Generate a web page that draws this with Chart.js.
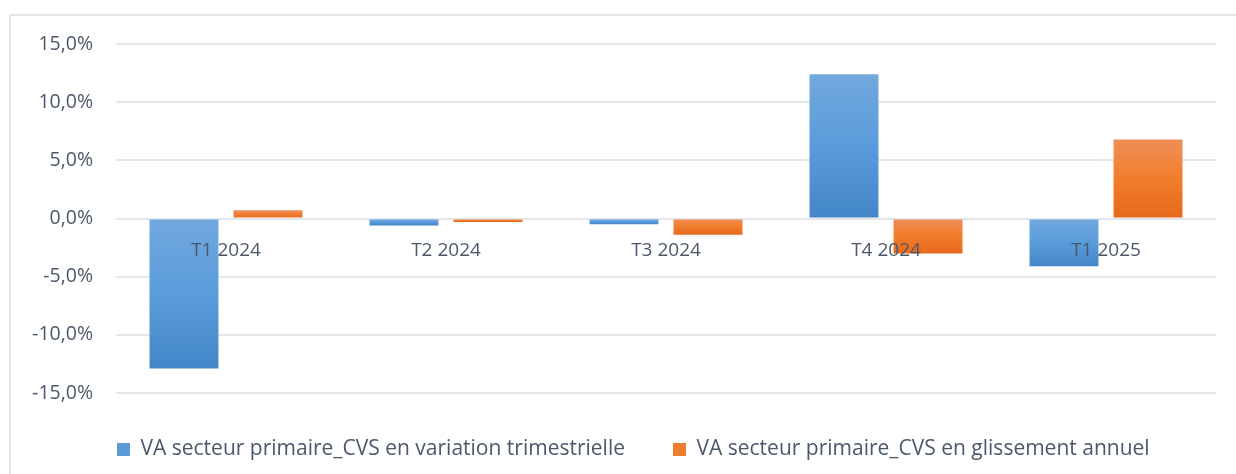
<!DOCTYPE html>
<html>
<head>
<meta charset="utf-8">
<script src="https://cdn.jsdelivr.net/npm/chart.js@4.4.1/dist/chart.umd.min.js"></script>
<style>
  html, body { margin: 0; padding: 0; background: #ffffff; overflow: hidden; }
  #wrap { position: relative; width: 1236px; height: 474px; }
  #frame { position: absolute; left: 9px; top: 14px; width: 1260px; height: 500px; border-top: 2px solid #e3e6ea; border-left: 2px solid #e3e6ea; box-sizing: border-box; }
  canvas { position: absolute; left: 0; top: 0; }
</style>
</head>
<body>
<div id="wrap">
  <div id="frame"></div>
  <canvas id="c" width="1236" height="474"></canvas>
</div>
<script>
const categories = ["T1 2024", "T2 2024", "T3 2024", "T4 2024", "T1 2025"];
const seriesNames = ["VA secteur primaire_CVS en variation trimestrielle", "VA secteur primaire_CVS en glissement annuel"];
const variationTrimestrielle = [-12.9, -0.6, -0.5, 12.4, -4.1];
const glissementAnnuel = [0.7, -0.3, -1.4, -3.0, 6.8];
const yTicks = [-15, -10, -5, 0, 5, 10, 15];

const FONT = "'Open Sans', 'Liberation Sans', sans-serif";
const TEXT = "#4b586b";

function gradFill(top, mid, bottom, solid) {
  return function (c) {
    const chart = c.chart;
    if (c.type !== 'data' || !chart.chartArea || !chart.scales.y) return solid;
    const y = chart.scales.y;
    const p0 = y.getPixelForValue(0);
    const p1 = y.getPixelForValue(c.raw);
    const a = Math.min(p0, p1), b = Math.max(p0, p1);
    if (b - a < 1) return solid;
    const g = chart.ctx.createLinearGradient(0, a, 0, b);
    g.addColorStop(0, top);
    g.addColorStop(0.5, mid);
    g.addColorStop(1, bottom);
    return g;
  };
}

const legendShift = {
  id: 'legendShift',
  afterLayout(chart) {
    const l = chart.legend;
    if (l) { l.top -= 2; l.bottom -= 2; l.left += 69; l.right += 69; }
  }
};

new Chart(document.getElementById('c'), {
  type: 'bar',
  data: {
    labels: categories,
    datasets: [
      {
        label: seriesNames[0],
        data: variationTrimestrielle,
        backgroundColor: gradFill('#72a8de', '#5a9cdb', '#4386c7', '#5b9bd5'),
        legendColor: '#5b9bd5',
        categoryPercentage: 0.764,
        barPercentage: 0.82
      },
      {
        label: seriesNames[1],
        data: glissementAnnuel,
        backgroundColor: gradFill('#f08f58', '#f17d2c', '#e7691c', '#ed7d31'),
        legendColor: '#ed7d31',
        categoryPercentage: 0.764,
        barPercentage: 0.82
      }
    ]
  },
  options: {
    responsive: false,
    animation: false,
    devicePixelRatio: 1,
    layout: { padding: { left: 0, right: 20, top: 44, bottom: 2 } },
    scales: {
      x: {
        position: { y: 0 },
        grid: { display: false },
        border: { display: false },
        ticks: { z: 1, color: TEXT, font: { family: FONT, size: 19 }, padding: 13, maxRotation: 0 },
        afterFit(s) { s.height = 0; }
      },
      y: {
        min: -15, max: 15,
        afterBuildTicks(s) { s.ticks = yTicks.map(v => ({ value: v })); },
        grid: { color: '#e3e6ea', lineWidth: 2, drawTicks: false },
        border: { display: false },
        ticks: {
          color: TEXT, font: { family: FONT, size: 19.5 }, padding: 23,
          callback: v => v.toFixed(1).replace('.', ',') + '%'
        },
        afterFit(s) { s.width = 116; }
      }
    },
    plugins: {
      tooltip: { enabled: false },
      legend: {
        position: 'bottom',
        align: 'start',
        labels: {
          color: TEXT,
          font: { family: FONT, size: 21 },
          boxWidth: 13, boxHeight: 13,
          padding: 48,
          generateLabels(chart) {
            return chart.data.datasets.map((d, i) => ({
              text: d.label, fillStyle: d.legendColor, strokeStyle: d.legendColor,
              lineWidth: 0, hidden: false, datasetIndex: i, fontColor: TEXT
            }));
          }
        }
      }
    }
  },
  plugins: [legendShift]
});
</script>
</body>
</html>
